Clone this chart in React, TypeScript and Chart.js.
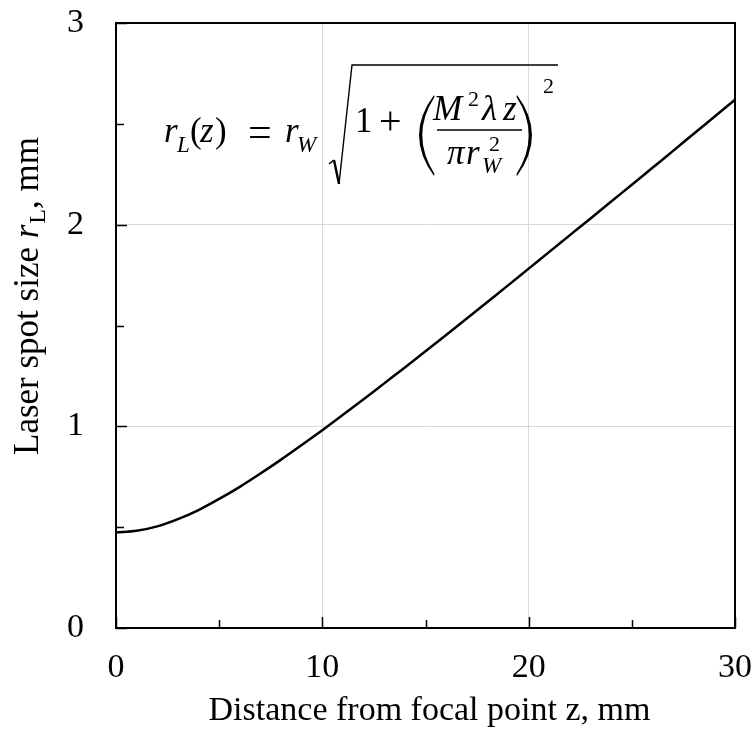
import React, { useEffect, useRef } from "react";
import { Chart, registerables } from "chart.js";

Chart.register(...registerables);

// Distance from focal point z (mm)
const zValues = [0, 1, 2, 3, 4, 5, 6, 7, 8, 9, 10, 11, 12, 13, 14, 15, 16, 17, 18, 19, 20, 21, 22, 23, 24, 25, 26, 27, 28, 29, 30];
// Laser spot size r_L (mm)
const spotSize = [0.474, 0.482, 0.504, 0.54, 0.585, 0.64, 0.7, 0.766, 0.835, 0.907, 0.981, 1.057, 1.134, 1.213, 1.292, 1.372, 1.453, 1.535, 1.617, 1.699, 1.782, 1.865, 1.948, 2.031, 2.115, 2.198, 2.282, 2.366, 2.451, 2.535, 2.619];

const xMajorTicks = [0, 10, 20, 30];
const xMinorTicks = [5, 15, 25];
const yMajorTicks = [0, 1, 2, 3];
const yMinorTicks = [0.5, 1.5, 2.5];

const xTitle = "Distance from focal point z, mm";
const yTitleParts = ["Laser spot size ", "r", "L", ", mm"];

const SERIF = '"Liberation Serif", "Times New Roman", serif';
const GRID = "#d9d9d9";

const decorPlugin = {
  id: "decor",
  afterDraw(chart: any) {
    const ctx = chart.ctx as CanvasRenderingContext2D;
    const ca = chart.chartArea;
    const xs = chart.scales.x;
    const ys = chart.scales.y;
    ctx.save();
    ctx.strokeStyle = "#000";
    ctx.fillStyle = "#000";

    // inward ticks
    ctx.lineWidth = 1.5;
    const xt = (v: number, len: number) => {
      const p = Math.round(xs.getPixelForValue(v)) + 0.5;
      ctx.beginPath();
      ctx.moveTo(p, ca.bottom);
      ctx.lineTo(p, ca.bottom - len);
      ctx.stroke();
    };
    const yt = (v: number, len: number) => {
      const p = Math.round(ys.getPixelForValue(v)) + 0.5;
      ctx.beginPath();
      ctx.moveTo(ca.left, p);
      ctx.lineTo(ca.left + len, p);
      ctx.stroke();
    };
    xMajorTicks.forEach((v) => xt(v, 11));
    xMinorTicks.forEach((v) => xt(v, 8));
    yMajorTicks.forEach((v) => yt(v, 11));
    yMinorTicks.forEach((v) => yt(v, 8));

    // frame
    ctx.lineWidth = 2;
    ctx.strokeRect(ca.left, ca.top, ca.right - ca.left, ca.bottom - ca.top);

    // x title
    ctx.font = `34px ${SERIF}`;
    ctx.textAlign = "center";
    ctx.textBaseline = "alphabetic";
    ctx.fillText(xTitle, (ca.left + ca.right) / 2 + 4, 720);

    // y title (rotated, with italic r and subscript L)
    const fMain = `35px ${SERIF}`;
    const fIt = `italic 35px ${SERIF}`;
    const fSub = `24px ${SERIF}`;
    const fonts = [fMain, fIt, fSub, fMain];
    const widths = yTitleParts.map((t, i) => {
      ctx.font = fonts[i];
      return ctx.measureText(t).width;
    });
    const total = widths.reduce((a, b) => a + b, 0) + 1;
    ctx.save();
    ctx.translate(38, 296);
    ctx.rotate(-Math.PI / 2);
    ctx.textAlign = "left";
    let cx = -total / 2;
    yTitleParts.forEach((t, i) => {
      ctx.font = fonts[i];
      const dy = i === 2 ? 7 : 0;
      ctx.fillText(t, cx, dy);
      cx += widths[i] + (i === 1 ? 1 : 0);
    });
    ctx.restore();

    // formula
    const fx = (x: number) => ca.left + (x - 116);
    const fy = (y: number) => ca.top + (y - 23);
    const txt = (s: string, font: string, x: number, y: number) => {
      ctx.font = font;
      ctx.textAlign = "left";
      ctx.textBaseline = "alphabetic";
      ctx.fillText(s, fx(x), fy(y));
    };
    const IT = `italic 35px ${SERIF}`;
    const UP = `35px ${SERIF}`;
    const SUBI = `italic 23px ${SERIF}`;
    const SUPU = `22px ${SERIF}`;

    txt("r", IT, 164, 142);
    txt("L", SUBI, 177, 152);
    txt("(", UP, 190, 142);
    txt("z", IT, 200, 142);
    txt(")", UP, 215, 142);
    txt("=", `42px ${SERIF}`, 248, 146);
    txt("r", IT, 285, 142);
    txt("W", SUBI, 297, 152);

    // radical sign
    ctx.lineWidth = 1.6;
    ctx.lineJoin = "miter";
    ctx.beginPath();
    ctx.moveTo(fx(329), fy(164));
    ctx.lineTo(fx(334), fy(160));
    ctx.stroke();
    ctx.lineWidth = 2.4;
    ctx.beginPath();
    ctx.moveTo(fx(334), fy(160));
    ctx.lineTo(fx(339), fy(184));
    ctx.stroke();
    ctx.lineWidth = 1.4;
    ctx.beginPath();
    ctx.moveTo(fx(339), fy(184));
    ctx.lineTo(fx(352), fy(65));
    ctx.lineTo(fx(558), fy(65));
    ctx.stroke();

    txt("1", UP, 355, 132);
    txt("+", `40px ${SERIF}`, 379, 134);

    // big parentheses
    const paren = (x0: number, dir: number) => {
      ctx.beginPath();
      ctx.moveTo(fx(x0), fy(95));
      ctx.quadraticCurveTo(fx(x0 - dir * 30), fy(135), fx(x0), fy(176));
      ctx.lineTo(fx(x0 + dir * 0.5), fy(174));
      ctx.quadraticCurveTo(fx(x0 - dir * 24), fy(135), fx(x0 + dir * 0.5), fy(97));
      ctx.closePath();
      ctx.fill();
    };
    paren(434, 1);
    paren(517, -1);

    txt("2", SUPU, 543, 93);

    // fraction numerator
    txt("M", IT, 433, 120);
    txt("2", SUPU, 468, 106);
    txt("λ", IT, 482, 120);
    txt("z", IT, 503, 120);
    // fraction bar
    ctx.lineWidth = 1.5;
    ctx.beginPath();
    ctx.moveTo(fx(437), fy(130));
    ctx.lineTo(fx(522), fy(130));
    ctx.stroke();
    // denominator
    txt("π", IT, 447, 164);
    txt("r", IT, 466, 164);
    txt("2", SUPU, 489, 151);
    txt("W", SUBI, 482, 173);

    ctx.restore();
  },
};

export default function App() {
  const ref = useRef<HTMLCanvasElement | null>(null);
  useEffect(() => {
    if (!ref.current) return;
    const chart = new Chart(ref.current, {
      type: "line",
      data: {
        datasets: [
          {
            data: zValues.map((z, i) => ({ x: z, y: spotSize[i] })),
            borderColor: "#000",
            borderWidth: 2.5,
            pointRadius: 0,
            tension: 0.4,
            cubicInterpolationMode: "monotone",
            fill: false,
          },
        ],
      },
      options: {
        animation: false,
        responsive: false,
        layout: { padding: { top: 23, right: 21, left: 0, bottom: 0 } },
        plugins: { legend: { display: false }, tooltip: { enabled: false } },
        scales: {
          x: {
            type: "linear",
            min: 0,
            max: 30,
            afterFit: (s: any) => {
              s.height = 108;
            },
            ticks: {
              stepSize: 10,
              padding: 0,
              color: "#000",
              font: { family: SERIF, size: 34 },
            },
            grid: {
              drawTicks: true,
              tickLength: 20,
              tickColor: "rgba(0,0,0,0)",
              color: (c: any) => (c.tick && c.tick.value > 0 && c.tick.value < 30 ? GRID : "rgba(0,0,0,0)"),
              lineWidth: 1,
            },
            border: { display: false },
          },
          y: {
            type: "linear",
            min: 0,
            max: 3,
            afterFit: (s: any) => {
              s.width = 116;
            },
            ticks: {
              stepSize: 1,
              padding: 0,
              color: "#000",
              font: { family: SERIF, size: 34 },
            },
            grid: {
              drawTicks: true,
              tickLength: 32,
              tickColor: "rgba(0,0,0,0)",
              color: (c: any) => (c.tick && c.tick.value > 0 && c.tick.value < 3 ? GRID : "rgba(0,0,0,0)"),
              lineWidth: 1,
            },
            border: { display: false },
          },
        },
      },
      plugins: [decorPlugin],
    });
    return () => chart.destroy();
  }, []);
  return (
    <div style={{ position: "absolute", left: 0, top: 0, width: 756, height: 736, background: "#fff" }}>
      <canvas ref={ref} width={756} height={736} style={{ display: "block" }} />
    </div>
  );
}
